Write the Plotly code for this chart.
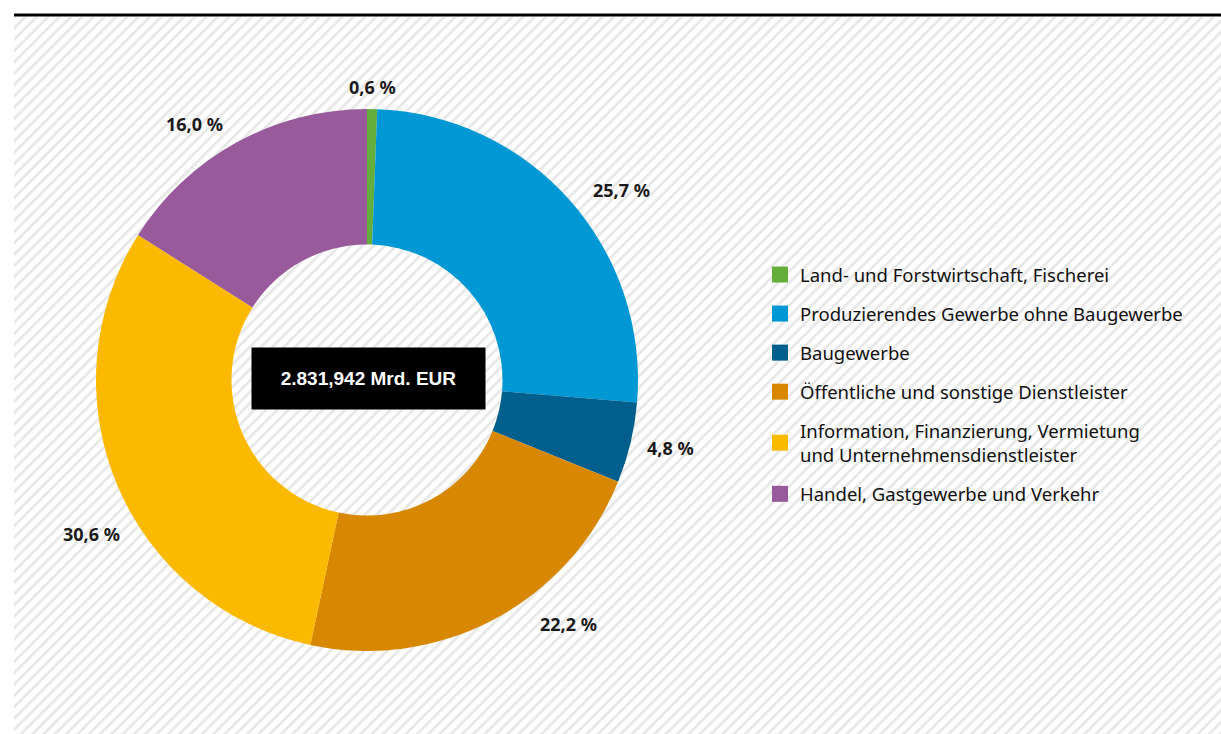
import math
import plotly.graph_objects as go

# ---- data ----
categories = [
    "Land- und Forstwirtschaft, Fischerei",
    "Produzierendes Gewerbe ohne Baugewerbe",
    "Baugewerbe",
    "Öffentliche und sonstige Dienstleister",
    "Information, Finanzierung, Vermietung<br>und Unternehmensdienstleister",
    "Handel, Gastgewerbe und Verkehr",
]
shares = [0.6, 25.7, 4.8, 22.2, 30.6, 16.0]
center_text = "2.831,942 Mrd. EUR"

# ---- style ----
colors = ["#64ae3c", "#0098d4", "#005f8c", "#d88700", "#fbb900", "#995a9c"]
W, H = 1221, 734
pie_px = dict(x0=96, x1=638, y0=108, y1=652)  # pixel box of the pie domain
label_angle_nudge = [0, 4.8, -0.7, -11.6, -6.4, -5.1]
label_radius_px = [293, 317, 311, 316, 316, 309]

fig = go.Figure()

# hatched background
fig.add_trace(go.Scatter(
    x=[0, 1, 1, 0, 0], y=[0, 0, 1, 1, 0], mode="lines", fill="toself",
    line=dict(width=0), fillcolor="rgba(0,0,0,0)",
    fillpattern=dict(shape="/", fgcolor="#cfcfcf", bgcolor="white", size=8, solidity=0.35),
    hoverinfo="skip", showlegend=False,
))

fig.add_trace(go.Pie(
    labels=categories, values=shares, sort=False, direction="clockwise", rotation=0,
    hole=0.5, marker=dict(colors=colors, line=dict(width=0)),
    textinfo="none", showlegend=False, hoverinfo="label+percent",
    domain=dict(x=[pie_px["x0"] / W, pie_px["x1"] / W],
                y=[1 - pie_px["y1"] / H, 1 - pie_px["y0"] / H]),
))

# legend via dummy traces
for i, (cat, col) in enumerate(zip(categories, colors)):
    fig.add_trace(go.Scatter(
        x=[None], y=[None], mode="markers", name=cat, legendgroup=f"g{i}",
        marker=dict(symbol="square", size=16, color=col, line=dict(width=0)),
    ))

# percentage labels
cx = (pie_px["x0"] + pie_px["x1"]) / 2
cy = (pie_px["y0"] + pie_px["y1"]) / 2
total = sum(shares)
cum = 0.0
annotations = []
for i, v in enumerate(shares):
    mid = (cum + v / 2) / total * 360.0
    cum += v
    th = math.radians(mid + label_angle_nudge[i])
    r = label_radius_px[i]
    px = cx + r * math.sin(th)
    py = cy - r * math.cos(th)
    annotations.append(dict(
        x=px / W, y=1 - py / H, xref="paper", yref="paper", showarrow=False,
        text=f"<b>{v:.1f}".replace(".", ",") + " %</b>",
        font=dict(family="Noto Sans", size=18, color="#1a1a1a"),
        xanchor="center", yanchor="middle",
    ))

annotations.append(dict(
    x=368.5 / W, y=1 - 378.5 / H, xref="paper", yref="paper", showarrow=False,
    text=f"<b>{center_text}</b>", font=dict(family="Liberation Sans", size=19, color="white"),
    bgcolor="black", width=231, height=59, xanchor="center", yanchor="middle",
))

fig.update_layout(
    width=W, height=H, margin=dict(l=0, r=0, t=0, b=0),
    paper_bgcolor="white", plot_bgcolor="white",
    xaxis=dict(range=[0, 1], domain=[14 / W, 1], visible=False, fixedrange=True),
    yaxis=dict(range=[0, 1], domain=[0, 1 - 17 / H], visible=False, fixedrange=True),
    showlegend=True,
    legend=dict(x=760 / W, y=1 - 256 / H, xanchor="left", yanchor="top",
                font=dict(family="Noto Sans", size=18.5, color="#111111"),
                bgcolor="rgba(0,0,0,0)", tracegroupgap=12, traceorder="grouped",
                itemclick=False, itemdoubleclick=False),
    annotations=annotations,
    shapes=[dict(type="line", xref="paper", yref="paper", x0=14 / W, x1=1,
                 y0=1 - 15 / H, y1=1 - 15 / H, line=dict(color="black", width=3))],
)

fig.write_html("out.html")
